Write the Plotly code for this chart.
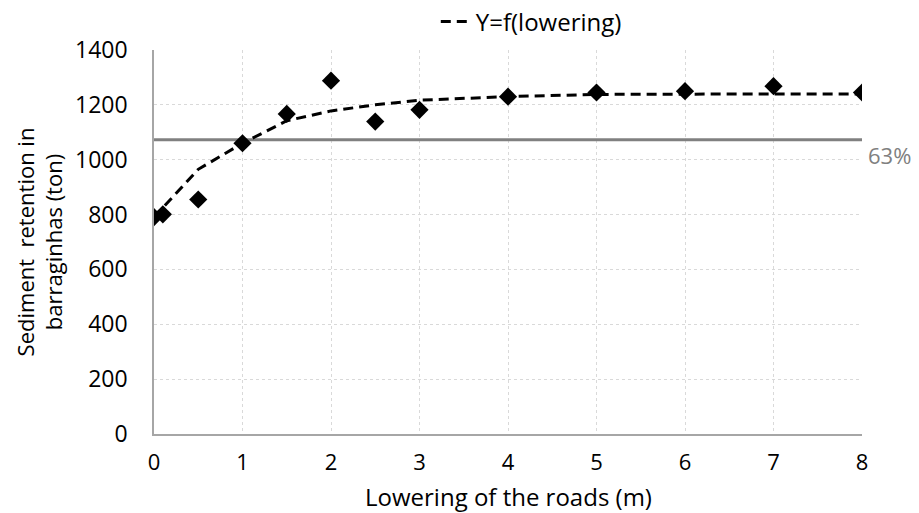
import plotly.graph_objects as go

# Observed data
lowering = [0, 0.1, 0.5, 1, 1.5, 2, 2.5, 3, 4, 5, 6, 7, 8]
retention = [791, 801, 855, 1060, 1167, 1288, 1139, 1182, 1230, 1245, 1250, 1268, 1245]

# Fitted curve Y=f(lowering), read at the data x positions
fit_x = [0, 0.1, 0.5, 1, 1.5, 2, 2.5, 3, 4, 5, 6, 7, 8]
fit_y = [790, 825, 965, 1060, 1142, 1178, 1200, 1217, 1230, 1238, 1240, 1240, 1240]

# 63% reference level
ref_x = [0, 8]
ref_y = [1073, 1073]
ref_label = "63%"

x_title = "Lowering of the roads (m)"
y_title = "Sediment  retention in<br>barraginhas (ton)"

FONT = "Open Sans"

fig = go.Figure()
fig.add_trace(go.Scatter(
    x=ref_x, y=ref_y, mode="lines",
    line=dict(color="#808080", width=3),
    showlegend=False, hoverinfo="skip"))
fig.add_trace(go.Scatter(
    x=fit_x, y=fit_y, mode="lines", name="Y=f(lowering)",
    line=dict(color="black", width=3, dash="10px,6px"),
    showlegend=True))
fig.add_trace(go.Scatter(
    x=lowering, y=retention, mode="markers",
    marker=dict(symbol="diamond", color="black", size=14),
    showlegend=False))

fig.add_annotation(x=8, y=ref_y[1], xref="x", yref="y", text=ref_label,
                   showarrow=False, xanchor="left", yanchor="middle", xshift=4, yshift=-15,
                   font=dict(family=FONT, size=22, color="#808080"))

fig.add_annotation(x=0.5, y=-0.164, xref="paper", yref="paper", text=x_title,
                   showarrow=False, xanchor="center", yanchor="middle",
                   font=dict(family=FONT, size=24, color="black"))

fig.update_layout(
    width=919, height=513,
    margin=dict(l=154, r=57, t=50, b=79, autoexpand=False),
    paper_bgcolor="white", plot_bgcolor="white",
    font=dict(family=FONT, size=22, color="black"),
    legend=dict(x=0.398, y=1.073, xanchor="left", yanchor="middle",
                orientation="h", font=dict(family=FONT, size=24),
                bgcolor="rgba(0,0,0,0)"),
    xaxis=dict(range=[0, 8], dtick=1, showgrid=True, gridcolor="#d9d9d9",
               griddash="dot", gridwidth=1, showline=True, linecolor="#a6a6a6",
               linewidth=1.5, ticks="", zeroline=False, ticklabelstandoff=8,
               tickfont=dict(size=22)),
    yaxis=dict(range=[0, 1400], dtick=200, showgrid=True, gridcolor="#d9d9d9",
               griddash="dot", gridwidth=1, showline=True, linecolor="#a6a6a6",
               linewidth=1.5, ticks="", zeroline=False, ticklabelstandoff=20,
               title=dict(text=y_title, font=dict(size=22), standoff=6),
               tickfont=dict(size=23)),
)

fig.write_html("out.html", config={"displayModeBar": False},
               post_script="document.body.style.margin='0px';document.body.style.overflow='hidden';")
